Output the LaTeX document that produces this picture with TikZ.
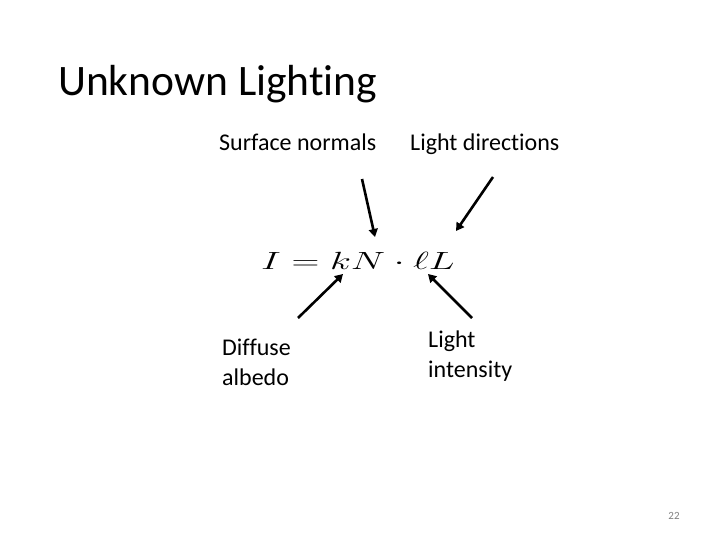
\documentclass[tikz,border=0pt]{standalone}
\usepackage{fontspec}
\setmainfont[RawFeature={-liga;-calt}]{Carlito}
\usetikzlibrary{arrows.meta}
\begin{document}
\begin{tikzpicture}[x=1pt,y=-1pt,
  lbl/.style={font=\fontsize{24}{30}\selectfont, anchor=north west, inner sep=0pt, align=left},
  one/.style={font=\fontsize{24}{28}\selectfont, anchor=base west, inner sep=0pt},
  arr/.style={line width=2.6pt, -{Triangle[length=8pt,width=9pt]}}]
\useasboundingbox (0,0) rectangle (720,540);
\node[anchor=base west, inner sep=0pt, font=\fontsize{43.5}{50}\selectfont] (title) at (58,96) {Unknown Lighting};
\node[one] (sn) at (219,151) {Surface normals};
\node[one] (ld) at (410,151) {Light directions};
\node[lbl] (da) at (222,339) {Diffuse\\albedo};
\node[lbl] (li) at (428,331) {Light\\intensity};
\node[anchor=base west, inner sep=0pt, font=\fontsize{32}{36}\selectfont] (eq) at (261,269) {\scalebox{1.55}[1]{$I = kN \cdot \ell L$}};
\node[anchor=base, inner sep=0pt, text=gray, font=\fontsize{11}{12}\selectfont] (pg) at (674,519) {22};
\coordinate (a1s) at (362,179); \coordinate (a1e) at (375,237);
\coordinate (a2s) at (493,177); \coordinate (a2e) at (456,231);
\coordinate (a3s) at (298,318); \coordinate (a3e) at (343,274);
\coordinate (a4s) at (472,318); \coordinate (a4e) at (428,274);
\draw[arr] (a1s) -- (a1e);
\draw[arr] (a2s) -- (a2e);
\draw[arr] (a3s) -- (a3e);
\draw[arr] (a4s) -- (a4e);
\end{tikzpicture}
\end{document}
